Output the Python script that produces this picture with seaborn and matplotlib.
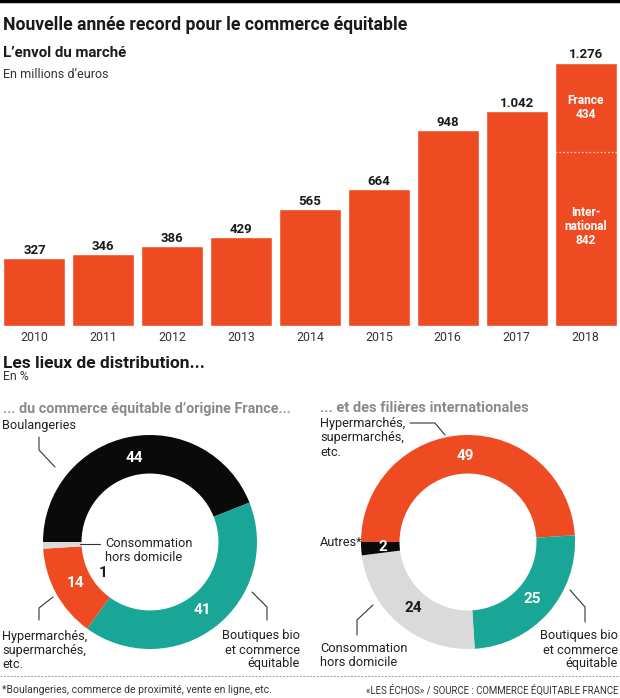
import matplotlib
matplotlib.use("Agg")
import matplotlib.pyplot as plt
import numpy as np
import pandas as pd
import seaborn as sns

# --- data ---
years = ["2010", "2011", "2012", "2013", "2014", "2015", "2016", "2017", "2018"]
market = [327, 346, 386, 429, 565, 664, 948, 1042, 1276]
france_2018 = 434
international_2018 = 842

france_channels = ["Boulangeries", "Boutiques bio", "Hypermarchés", "Consommation"]
france_shares = [44, 41, 14, 1]
intl_channels = ["Hypermarchés", "Boutiques bio", "Consommation", "Autres"]
intl_shares = [49, 25, 24, 2]

ORANGE = "#EE4B22"
TEAL = "#19A697"
GRAY = "#DADADA"
BLACK = "#0a0a0a"
DARK = "#1a1a1a"
channel_colors = {"Boulangeries": BLACK, "Autres": BLACK, "Boutiques bio": TEAL,
                  "Hypermarchés": ORANGE, "Consommation": GRAY}

sns.set_theme(style="white")
plt.rcParams["font.family"] = ["Roboto", "DejaVu Sans"]

W, H = 620, 698
fig = plt.figure(figsize=(W / 100, H / 100), dpi=100)


def box(left, top, w, h):
    # pixel box (from top-left) -> figure fraction
    return [left / W, (H - top - h) / H, w / W, h / H]


# ---- bar chart: market size ----
ax = fig.add_axes(box(0, 40, 620, 285.5))
df = pd.DataFrame({"year": years, "value": market})
sns.barplot(data=df, x="year", y="value", color=ORANGE, saturation=1, width=0.9, ax=ax)
ax.set_xlim(-0.5, len(years) - 0.5)
ax.set_ylim(0, 1386)
sns.despine(ax=ax, left=True, bottom=True)
ax.set_yticks([])
ax.set(xlabel="", ylabel="")
ax.set_facecolor("none")
ax.tick_params(axis="x", length=0, pad=4, labelsize=8.9, labelcolor="#333333")

for i, v in enumerate(market):
    ax.annotate(f"{v:,}".replace(",", "."), (i, v), xytext=(0, 3), textcoords="offset points",
                ha="center", va="baseline", fontsize=9.5, fontweight="bold", color=DARK)

# 2018 split France / International
i18 = years.index("2018")
ax.hlines(international_2018, i18 - 0.45, i18 + 0.45, colors="#f9c4b0",
          linestyles=(0, (1.5, 1.5)), lw=0.9)
ax.text(i18, international_2018 + france_2018 / 2, f"France\n{france_2018}", ha="center", va="center",
        fontsize=8.6, fontweight="bold", color="white", linespacing=1.1)
ax.text(i18, international_2018 * 0.57, f"Inter-\nnational\n{international_2018}", ha="center",
        va="center", fontsize=8.6, fontweight="bold", color="white", linespacing=1.1)


# ---- donuts ----
def donut(cx, cy, r, channels, shares):
    size = 2.2 * r
    pax = fig.add_axes(box(cx - size / 2, cy - size / 2, size, size))
    pax.pie(shares, colors=[channel_colors[c] for c in channels], startangle=180,
            counterclock=False, radius=1, wedgeprops=dict(width=0.36, edgecolor="none"))
    pax.set_xlim(-1.1, 1.1)
    pax.set_ylim(-1.1, 1.1)
    pax.set_aspect("equal")
    cum = 0
    for c, v in zip(channels, shares):
        mid = np.deg2rad(180 - 3.6 * (cum + v / 2))
        cum += v
        if v < 2:
            continue  # too thin, labelled outside the ring
        col = DARK if channel_colors[c] == GRAY else "white"
        pax.text(0.8 * np.cos(mid), 0.8 * np.sin(mid), str(v), ha="center", va="center",
                 fontsize=11, fontweight="bold", color=col)
    return pax


left_donut = donut(150, 542, 107, france_channels, france_shares)
right_donut = donut(468, 542, 107, intl_channels, intl_shares)
left_donut.text(-0.44, -0.29, str(france_shares[3]), ha="center", va="center",
                fontsize=11, fontweight="bold", color=DARK)

# ---- overlay in pixel coordinates for titles and callouts ----
ov = fig.add_axes([0, 0, 1, 1])
ov.set_xlim(0, W)
ov.set_ylim(H, 0)
ov.axis("off")
ov.set_facecolor("none")

ov.plot([0, W], [1, 1], color="black", lw=2.5)
ov.text(3, 30.5, "Nouvelle année record pour le commerce équitable", fontsize=12.7,
        fontweight="bold", color=DARK, va="baseline")
ov.text(3, 57, "L\u2019envol du marché", fontsize=10.8, fontweight="bold", color=DARK, va="baseline")
ov.text(3, 78, "En millions d\u2019euros", fontsize=9, color="#333333", va="baseline")

ov.text(3, 368, "Les lieux de distribution...", fontsize=12.5, fontweight="bold", color=DARK,
        va="baseline")
ov.text(3, 380, "En %", fontsize=8.8, color="#333333", va="baseline")
ov.text(3, 412.5, "... du commerce équitable d\u2019origine France...", fontsize=10.4,
        fontweight="bold", color="#8a8a8a", va="baseline")
ov.text(320, 412.5, "... et des filières internationales", fontsize=10.5,
        fontweight="bold", color="#8a8a8a", va="baseline")

lab = dict(fontsize=9.2, color="#222222", linespacing=1.1, va="center")
line = dict(color="#333333", lw=0.8)

# left donut callouts
ov.text(2, 425, "Boulangeries", ha="left", **lab)
ov.plot([39, 39, 55], [437, 450, 467], **line)
ov.text(105, 550.5, "Consommation\nhors domicile", ha="left", **lab)
ov.plot([80, 100], [544, 544], **line)
ov.text(2, 650.5, "Hypermarchés,\nsupermarchés,\netc.", ha="left", **lab)
ov.plot([39, 39, 53], [620, 608, 597], **line)
ov.text(300, 650, "Boutiques bio\net commerce\néquitable", ha="right", multialignment="right", **lab)
ov.plot([252, 267, 267], [592, 607, 620], **line)

# right donut callouts
ov.text(320, 438, "Hypermarchés,\nsupermarchés,\netc.", ha="left", **lab)
ov.plot([410, 435, 445], [423, 423, 435], **line)
ov.text(320, 543, "Autres*", ha="left", **lab)
ov.text(320, 655.5, "Consommation\nhors domicile", ha="left", **lab)
ov.plot([357, 357, 373], [635, 620, 605], **line)
ov.text(618, 650, "Boutiques bio\net commerce\néquitable", ha="right", multialignment="right", **lab)
ov.plot([570, 585, 585], [590, 607, 622], **line)

# footer
ov.plot([0, W], [676, 676], color="#999999", lw=0.7, linestyle=(0, (2, 1.5)))
ov.text(2, 690, "*Boulangeries, commerce de proximité, vente en ligne, etc.", fontsize=7.5,
        color="#333333", va="center", ha="left")
ov.text(618, 690, "\u00abLES ÉCHOS\u00bb / SOURCE : COMMERCE ÉQUITABLE FRANCE", fontsize=6.9,
        color="#333333", va="center", ha="right")

fig.savefig("out.png", dpi=100)
plt.close(fig)
